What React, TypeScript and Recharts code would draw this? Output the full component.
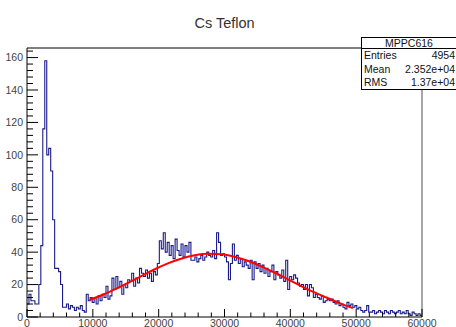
import { ComposedChart, Line, XAxis, YAxis, ReferenceLine } from "recharts";

// Histogram: 200 bins, 300 wide, covering 0..60000
const binWidth = 300;
const counts = [
  8, 14, 10, 10, 8, 8, 20, 44, 116, 158,
  100, 104, 90, 60, 30, 30, 28, 20, 6, 6,
  8, 5, 7, 6, 4, 6, 5, 7, 4, 3,
  14, 10, 12, 9, 12, 8, 13, 10, 14, 12,
  19, 11, 13, 24, 17, 25, 18, 22, 14, 20,
  18, 23, 22, 27, 19, 24, 21, 30, 27, 25,
  29, 24, 27, 22, 28, 26, 33, 47, 42, 52,
  40, 46, 38, 44, 36, 48, 41, 38, 45, 37,
  44, 40, 46, 35, 35, 37, 34, 36, 38, 35,
  37, 40, 38, 37, 41, 36, 52, 46, 38, 39,
  37, 34, 23, 33, 45, 35, 38, 33, 36, 31,
  34, 32, 30, 35, 23, 34, 30, 33, 28, 32,
  27, 30, 25, 28, 32, 23, 28, 26, 24, 29,
  22, 35, 17, 25, 23, 26, 24, 21, 19, 20,
  17, 20, 13, 20, 18, 12, 14, 12, 11, 13,
  9, 10, 11, 10, 11, 9, 8, 10, 7, 8,
  6, 5, 9, 7, 8, 6, 7, 5, 6, 4,
  3, 4, 7, 3, 3, 4, 2, 3, 4, 3,
  2, 4, 3, 2, 4, 3, 2, 3, 4, 2,
  3, 2, 4, 2, 1, 3, 2, 1, 2, 1,
];

// Gaussian fit, sampled along x
const fitX = [
  9500, 11500, 13500, 15500, 17500, 19500, 21500, 23500, 25500, 27500,
  29500, 31500, 33500, 35500, 37500, 39500, 41500, 43500, 45500, 47500, 49500,
];
const fitY = [
  10.5, 13.7, 17.4, 21.4, 25.5, 29.6, 33.2, 36.1, 38.1, 39.0,
  38.7, 37.2, 34.7, 31.4, 27.6, 23.5, 19.4, 15.5, 12.0, 8.6, 5.5,
];

const xTicks = [
  0, 2000, 4000, 6000, 8000, 10000, 12000, 14000, 16000, 18000, 20000,
  22000, 24000, 26000, 28000, 30000, 32000, 34000, 36000, 38000, 40000,
  42000, 44000, 46000, 48000, 50000, 52000, 54000, 56000, 58000, 60000,
];
const xLabels = [0, 10000, 20000, 30000, 40000, 50000, 60000];
const yTicks = [
  0, 4, 8, 12, 16, 20, 24, 28, 32, 36, 40, 44, 48, 52, 56, 60, 64, 68, 72, 76,
  80, 84, 88, 92, 96, 100, 104, 108, 112, 116, 120, 124, 128, 132, 136, 140,
  144, 148, 152, 156, 160, 164,
];
const yLabels = [0, 20, 40, 60, 80, 100, 120, 140, 160];

const yMax = 165.9;

const histData = [
  ...counts.map((c, i) => ({ x: i * binWidth, y: c })),
  { x: counts.length * binWidth, y: counts[counts.length - 1] },
];
const fitData = fitX.map((x, i) => ({ x, y: fitY[i] }));

const font = '"Liberation Sans", Arial, sans-serif';

const XTick = ({ x, y, payload }: any) => {
  const major = xLabels.includes(payload.value);
  return (
    <g>
      <line x1={x} x2={x} y1={y} y2={y - (major ? 8 : 4.5)} stroke="#000" />
      {major && (
        <text x={x} y={y + 9.5} textAnchor="middle" fontSize={10.5} fontFamily={font} fill="#444">
          {payload.value}
        </text>
      )}
    </g>
  );
};

const YTick = ({ x, y, payload }: any) => {
  const major = yLabels.includes(payload.value);
  return (
    <g>
      <line x1={x} x2={x + (major ? 11 : 6)} y1={y} y2={y} stroke="#000" />
      {major && (
        <text x={x - 4} y={y} dy="0.35em" textAnchor="end" fontSize={10.5} fontFamily={font} fill="#444">
          {payload.value}
        </text>
      )}
    </g>
  );
};

const statRow = { display: "flex", justifyContent: "space-between", height: 13.5, lineHeight: "13.5px", padding: "0 1px 0 2px" };

export default function App() {
  return (
    <div style={{ position: "absolute", left: 0, top: 0, width: 456, height: 327, background: "#fff", overflow: "hidden", fontFamily: font }}>
      <div style={{ position: "absolute", left: 0, width: 449, top: 15, textAlign: "center", fontSize: 14.5, color: "#333" }}>
        Cs Teflon
      </div>
      <ComposedChart width={456} height={327} margin={{ top: 48, right: 34, bottom: 0, left: 0 }}>
        <XAxis
          type="number"
          dataKey="x"
          domain={[0, 60000]}
          ticks={xTicks}
          interval={0}
          height={10}
          tickSize={0}
          tickMargin={0}
          tickLine={false}
          axisLine={{ stroke: "#000" }}
          tick={<XTick />}
        />
        <YAxis
          type="number"
          domain={[0, yMax]}
          ticks={yTicks}
          interval={0}
          width={27}
          tickSize={0}
          tickMargin={0}
          tickLine={false}
          axisLine={{ stroke: "#000" }}
          tick={<YTick />}
        />
        <ReferenceLine y={yMax} stroke="#000" />
        <ReferenceLine x={60000} stroke="#888" strokeWidth={1.5} />
        <Line
          data={histData}
          dataKey="y"
          type="stepAfter"
          stroke="#1a1a8c"
          strokeWidth={1.1}
          dot={false}
          isAnimationActive={false}
        />
        <Line
          data={fitData}
          dataKey="y"
          type="monotone"
          stroke="#ff0000"
          strokeWidth={2}
          dot={false}
          isAnimationActive={false}
        />
      </ComposedChart>
      <div
        style={{
          position: "absolute",
          left: 361,
          top: 37,
          width: 94,
          height: 51,
          border: "1px solid #000",
          background: "#fff",
          fontSize: 10.5,
          color: "#111",
        }}
      >
        <div style={{ height: 10, lineHeight: "10px", textAlign: "center", borderBottom: "1px solid #000" }}>MPPC616</div>
        <div style={statRow}>
          <span>Entries</span>
          <span>4954</span>
        </div>
        <div style={statRow}>
          <span>Mean</span>
          <span>2.352e+04</span>
        </div>
        <div style={statRow}>
          <span>RMS</span>
          <span>1.37e+04</span>
        </div>
      </div>
    </div>
  );
}
